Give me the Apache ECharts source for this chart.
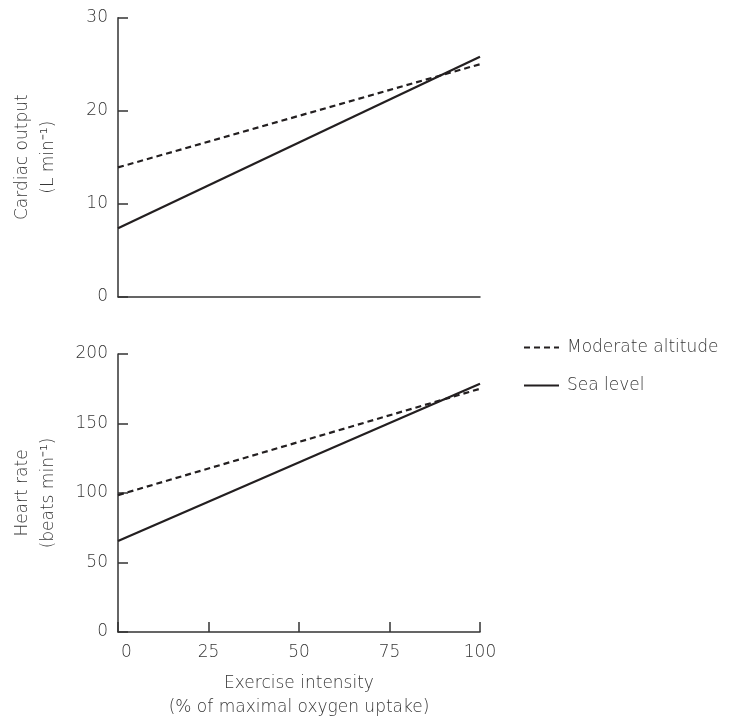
<!DOCTYPE html>
<html>
<head>
<meta charset="utf-8">
<script src="https://cdn.jsdelivr.net/npm/echarts@6/dist/echarts.min.js"></script>
<style>
html,body{margin:0;padding:0;background:#fff;}
#c{width:729px;height:721px;}
</style>
</head>
<body>
<div id="c"></div>
<script>
// Exercise intensity (% of maximal oxygen uptake)
const intensity = [0, 100];
const xTicks = [0, 25, 50, 75, 100];
// Cardiac output (L min^-1)
const coSeaLevel = [7.35, 25.8];
const coAltitude = [13.9, 25.0];
// Heart rate (beats min^-1)
const hrSeaLevel = [65.4, 178.6];
const hrAltitude = [98.5, 175.0];
const seriesNames = ['Moderate altitude', 'Sea level'];

const FONT = 'DejaVu Sans';
const TXT = '#363636';
const AX = '#333333';
const LINE = '#231f20';

function pairs(xs, ys){ return xs.map((x,i)=>[x, ys[i]]); }

const chart = echarts.init(document.getElementById('c'), null, {renderer:'canvas'});

const axisLine = {show:true, onZero:false, lineStyle:{color:AX, width:1.5}};
const labelStyle = {color:TXT, fontFamily:FONT, fontSize:17, fontWeight:200};

function yAxis(gridIndex, max, interval, name){
  return {
    type:'value', gridIndex, min:0, max, interval,
    axisLine, splitLine:{show:false},
    axisTick:{show:true, inside:true, length:10, lineStyle:{color:AX, width:1.5}},
    axisLabel:Object.assign({margin:10}, labelStyle),
    name, nameLocation:'middle', nameRotate:90, nameGap:56,
    nameTextStyle:{color:TXT, fontFamily:FONT, fontSize:17, fontWeight:200, lineHeight:26, align:'center'}
  };
}

const option = {
  backgroundColor:'#fff',
  animation:false,
  grid:[
    {left:118, top:17.7, width:362, height:279},
    {left:118, top:354, width:362, height:279.5}
  ],
  xAxis:[
    {type:'value', gridIndex:0, min:0, max:100, interval:25,
     axisLine, axisTick:{show:false}, axisLabel:{show:false}, splitLine:{show:false}},
    {type:'value', gridIndex:1, min:0, max:100, interval:25,
     axisLine, splitLine:{show:false},
     axisTick:{show:true, inside:true, length:10, lineStyle:{color:AX, width:1.5}},
     axisLabel:Object.assign({margin:12,
       formatter:function(v){ return v===xTicks[0] ? '{z|'+v+'}' : String(v); },
       rich:{z:{padding:[0,0,0,17], color:TXT, fontFamily:FONT, fontSize:17, fontWeight:200}}
     }, labelStyle),
     name:'Exercise intensity\n(% of maximal oxygen uptake)',
     nameLocation:'middle', nameGap:40,
     nameTextStyle:{color:TXT, fontFamily:FONT, fontSize:17, fontWeight:200, lineHeight:24, align:'center'}
    }
  ],
  yAxis:[
    yAxis(0, 30, 10, 'Cardiac output\n(L min\u207B\u00B9)'),
    yAxis(1, 200, 50, 'Heart rate\n(beats min\u207B\u00B9)')
  ],
  legend:{
    orient:'vertical', left:518, top:334, itemWidth:35, itemHeight:17, itemGap:21,
    data:seriesNames,
    itemStyle:{opacity:0},
    textStyle:{color:TXT, fontFamily:FONT, fontSize:17, fontWeight:200, padding:[0,0,0,3]}
  },
  series:[
    {name:seriesNames[0], type:'line', xAxisIndex:0, yAxisIndex:0, data:pairs(intensity, coAltitude),
     symbol:'none', lineStyle:{color:LINE, width:2.2, type:[6,4]}, itemStyle:{color:LINE}},
    {name:seriesNames[1], type:'line', xAxisIndex:0, yAxisIndex:0, data:pairs(intensity, coSeaLevel),
     symbol:'none', lineStyle:{color:LINE, width:2.2}, itemStyle:{color:LINE}},
    {name:seriesNames[0], type:'line', xAxisIndex:1, yAxisIndex:1, data:pairs(intensity, hrAltitude),
     symbol:'none', lineStyle:{color:LINE, width:2.2, type:[6,4]}, itemStyle:{color:LINE}},
    {name:seriesNames[1], type:'line', xAxisIndex:1, yAxisIndex:1, data:pairs(intensity, hrSeaLevel),
     symbol:'none', lineStyle:{color:LINE, width:2.2}, itemStyle:{color:LINE}}
  ]
};
chart.setOption(option);
</script>
</body>
</html>
